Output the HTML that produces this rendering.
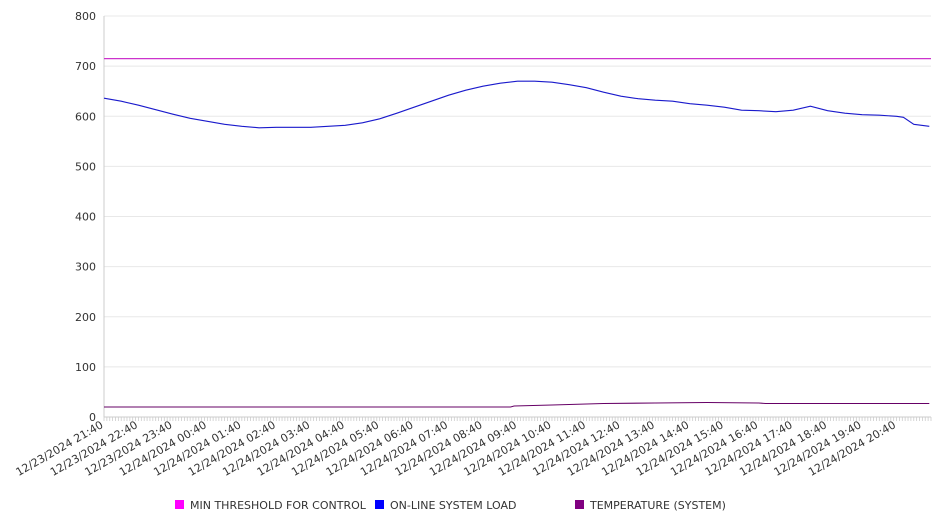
<!DOCTYPE html>
<html><head><meta charset="utf-8"><style>
body{margin:0;background:#fff;font-family:"DejaVu Sans","Liberation Sans",sans-serif;}
svg{display:block}
</style></head><body>
<svg id="chart" width="946" height="526" xmlns="http://www.w3.org/2000/svg" font-family="DejaVu Sans, Liberation Sans, sans-serif"></svg>
<script>
const yTicks=[0,100,200,300,400,500,600,700,800];
const xLabels=["12/23/2024 21:40","12/23/2024 22:40","12/23/2024 23:40","12/24/2024 00:40","12/24/2024 01:40","12/24/2024 02:40","12/24/2024 03:40","12/24/2024 04:40","12/24/2024 05:40","12/24/2024 06:40","12/24/2024 07:40","12/24/2024 08:40","12/24/2024 09:40","12/24/2024 10:40","12/24/2024 11:40","12/24/2024 12:40","12/24/2024 13:40","12/24/2024 14:40","12/24/2024 15:40","12/24/2024 16:40","12/24/2024 17:40","12/24/2024 18:40","12/24/2024 19:40","12/24/2024 20:40"];
// time in hours from start
const loadHours=[0,0.5,1,1.5,2,2.5,3,3.5,4,4.5,5,5.5,6,6.5,7,7.5,8,8.5,9,9.5,10,10.5,11,11.5,12,12.5,13,13.5,14,14.5,15,15.5,16,16.5,17,17.5,18,18.5,19,19.5,20,20.5,21,21.5,22,22.5,23,23.2,23.5,23.95];
const loadValues=[636,630,622,613,604,596,590,584,580,577,578,578,578,580,582,587,595,606,618,630,642,652,660,666,670,670,668,663,657,648,640,635,632,630,625,622,618,612,611,609,612,620,611,606,603,602,600,598,584,580];
const tempHours=[0,11.8,11.9,13,14.5,16,17.5,19,19.2,23.95];
const tempValues=[20,20,22,24,27,28,29,28,27,27];
const thresholdValue=715;
const svg=document.getElementById('chart');
const NS='http://www.w3.org/2000/svg';
const X0=104,X1=931,Y0=417,Y1=16,H=24;
const xs=h=>X0+(X1-X0)*h/H;
const ys=v=>Y0-(Y0-Y1)*v/800;
function mk(t,a){const e=document.createElementNS(NS,t);for(const k in a)e.setAttribute(k,a[k]);svg.appendChild(e);return e;}
yTicks.forEach(v=>{
 const g=mk('line',{x1:X0,x2:X1,y1:ys(v),y2:ys(v),stroke:v===0?'#ccc':'#e8e8e8','stroke-width':1});
 
 
 const t=mk('text',{x:96,y:ys(v)+4,'text-anchor':'end','font-size':11,fill:'#333'});t.textContent=v;
 
 
});
const ax=mk('line',{x1:X0,x2:X0,y1:Y1,y2:Y0,stroke:'#ccc'});


for(let i=0;i<=288;i++){const x=xs(i/12);const l=mk('line',{x1:x,x2:x,y1:Y0,y2:Y0+4,stroke:'#ccc','stroke-width':0.8});
 
 }
xLabels.forEach((s,i)=>{const x=xs(i);const t=mk('text',{x:x,y:Y0+10,'text-anchor':'end','font-size':11,fill:'#333',transform:`rotate(-30 ${x} ${Y0+10})`});t.textContent=s;
 
 });
const th=mk('line',{x1:X0,x2:X1,y1:ys(thresholdValue),y2:ys(thresholdValue),stroke:'#cc33cc','stroke-width':1.2});


function path(hs,vs,c,name){const d=hs.map((h,i)=>(i?'L':'M')+xs(h).toFixed(1)+','+ys(vs[i]).toFixed(1)).join('');const p=mk('path',{d:d,fill:'none',stroke:c,'stroke-width':1.1});
 
 }
path(loadHours,loadValues,'#1a1acc','online-system-load-line');
path(tempHours,tempValues,'#660066','temperature-line');
const leg=[['MIN THRESHOLD FOR CONTROL','#ff00ff',175],['ON-LINE SYSTEM LOAD','#0000ff',375],['TEMPERATURE (SYSTEM)','#800080',575]];
leg.forEach(l=>{const r=mk('rect',{x:l[2],y:500,width:9,height:9,fill:l[1]});
 
 
 const t=mk('text',{x:l[2]+15,y:509,'font-size':11,fill:'#333'});t.textContent=l[0];
 
 });
</script>
</body></html>
